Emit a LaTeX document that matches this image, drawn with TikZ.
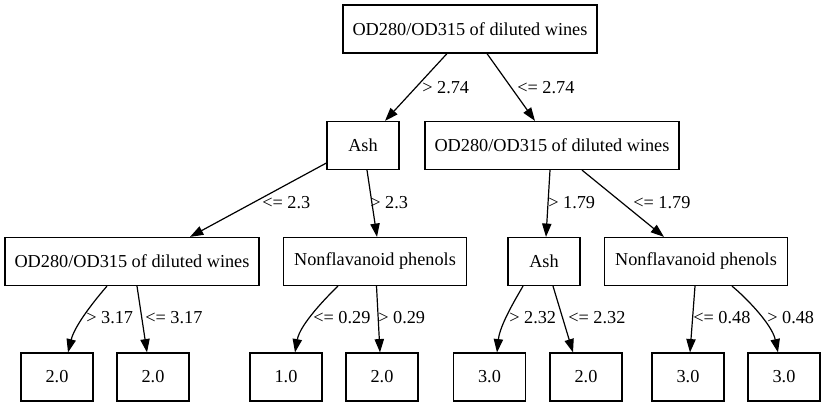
\documentclass[tikz,border=0pt]{standalone}
\usepackage{fontspec}
\setmainfont{Liberation Serif}
\newfontfamily\tmsfont{Liberation Serif}
\usetikzlibrary{arrows.meta,calc}
\begin{document}
\begin{tikzpicture}[x=0.75pt,y=-0.75pt,
  box/.style={draw,line width=0.9pt,minimum height=36pt,inner xsep=2pt,font=\tmsfont\fontsize{13.7pt}{16pt}\selectfont},
  wide/.style={box,minimum width=190.5pt},
  mid/.style={box,minimum width=137pt},
  small/.style={box,minimum width=54pt},
  lbl/.style={anchor=west,inner sep=0pt,font=\tmsfont\fontsize{13.7pt}{16pt}\selectfont},
  edge/.style={line width=0.9pt,-{Triangle[length=10pt,width=7pt]}}]
\fill[white] (0,0) rectangle (826,407);
\useasboundingbox (0,0) rectangle (826,407);
% nodes
\node[wide]  (root) at (470,29)    {OD280/OD315 of diluted wines};
\node[small] (ash1) at (363,145.5) {Ash};
\node[wide]  (rod)  at (552,145.5) {OD280/OD315 of diluted wines};
\node[wide]  (od2)  at (132,261.5) {OD280/OD315 of diluted wines};
\node[mid]   (nf1)  at (375,261.5) {Nonflavanoid phenols};
\node[small] (ash2) at (544,261.5) {Ash};
\node[mid]   (nf2)  at (696,261.5) {Nonflavanoid phenols};
\node[small] (l1) at (57,377)    {2.0};
\node[small] (l2) at (153,377)   {2.0};
\node[small] (l3) at (286,377)   {1.0};
\node[small] (l4) at (382,377)   {2.0};
\node[small] (l5) at (489.5,377) {3.0};
\node[small] (l6) at (586,377)   {2.0};
\node[small] (l7) at (688,377)   {3.0};
\node[small] (l8) at (784,377)   {3.0};
% edges
\draw[edge] ($(root.south)+(-23,0)$) -- ($(ash1.north)+(22,0)$);
\draw[edge] ($(root.south)+(17,0)$) -- ($(rod.north)+(-17,0)$);
\draw[edge] ($(ash1.west)+(0,17.5)$) -- ($(od2.north)+(58,0)$);
\draw[edge] ($(ash1.south)+(4,0)$) -- ($(nf1.north)+(2,0)$);
\draw[edge] ($(rod.south)+(-2,0)$) -- ($(ash2.north)+(2,0)$);
\draw[edge] ($(rod.south)+(30,0)$) -- ($(nf2.north)+(-32,0)$);
\draw[edge] ($(od2.south)+(-25,0)$) .. controls ($(od2.south)+(-35,11.5)$) and ($(l1.north)+(18,-28)$) .. ($(l1.north)+(11,0)$);
\draw[edge] ($(od2.south)+(5,0)$) -- ($(l2.north)+(-6,0)$);
\draw[edge] ($(nf1.south)+(-37,0)$) .. controls ($(nf1.south)+(-48,10.5)$) and ($(l3.north)+(14,-28)$) .. ($(l3.north)+(9,0)$);
\draw[edge] ($(nf1.south)+(1.5,0)$) -- ($(l4.north)+(-2,0)$);
\draw[edge] ($(ash2.south)+(-21,0)$) .. controls ($(ash2.south)+(-27,10.5)$) and ($(l5.north)+(10.5,-28)$) .. ($(l5.north)+(7.5,0)$);
\draw[edge] ($(ash2.south)+(9,0)$) -- ($(l6.north)+(-13,0)$);
\draw[edge] ($(nf2.south)+(-1,0)$) -- ($(l7.north)+(2,0)$);
\draw[edge] ($(nf2.south)+(36,0)$) .. controls ($(nf2.south)+(50,11.5)$) and ($(l8.north)+(-12,-28)$) .. ($(l8.north)+(-6,0)$);
% edge labels
\node[lbl] (t1)  at (422,88)  {> 2.74};
\node[lbl] (t2)  at (517,88)  {<= 2.74};
\node[lbl] (t3)  at (262,203) {<= 2.3};
\node[lbl] (t4)  at (370,203) {> 2.3};
\node[lbl] (t5)  at (548,203) {> 1.79};
\node[lbl] (t6)  at (633,203) {<= 1.79};
\node[lbl] (t7)  at (86,318)  {> 3.17};
\node[lbl] (t8)  at (145,318) {<= 3.17};
\node[lbl] (t9)  at (313,318) {<= 0.29};
\node[lbl] (t10) at (378,318) {> 0.29};
\node[lbl] (t11) at (509,318) {> 2.32};
\node[lbl] (t12) at (568,318) {<= 2.32};
\node[lbl] (t13) at (693,318) {<= 0.48};
\node[lbl] (t14) at (767,318) {> 0.48};
\end{tikzpicture}
\end{document}
